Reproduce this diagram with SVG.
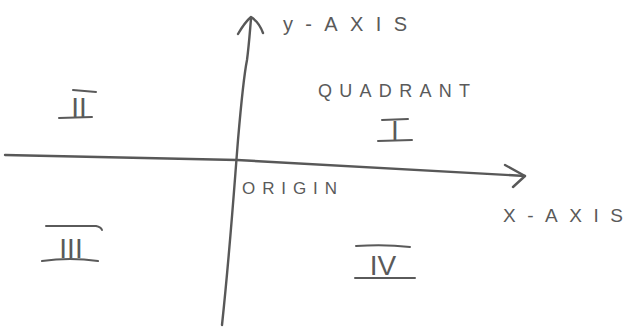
<svg xmlns="http://www.w3.org/2000/svg" width="626" height="331" viewBox="0 0 626 331">
<style>
.ln{fill:none;stroke:#585858;stroke-width:2.4;stroke-linecap:round;stroke-linejoin:round}
.bar{fill:none;stroke:#5a5a5a;stroke-width:2;stroke-linecap:round}
.t{font-family:"Liberation Sans",Arial,sans-serif;fill:#5a5a5a}
.num{font-family:"Liberation Sans",Arial,sans-serif;fill:#5a5a5a;font-size:28px;text-anchor:middle}
</style>
<rect width="626" height="331" fill="#ffffff"/>
<g id="connectors">
  <path class="ln" d="M5,155 L237,160 L525,176"/>
  <path class="ln" d="M505,165 L525,176 L513,187"/>
  <path class="ln" d="M222,325 C230,250 234,190 238,140 C241,105 245,70 247,60 C249,45 250,30 251,19"/>
  <path class="ln" d="M238,34 Q245,22 251,17 Q259,22 263,33"/>
</g>
<g id="y-axis-label"><text class="t" x="283" y="31" font-size="20" textLength="124" lengthAdjust="spacing">y-AXIS</text></g>
<g id="x-axis-label"><text class="t" x="503" y="222" font-size="19" textLength="120" lengthAdjust="spacing">X-AXIS</text></g>
<g id="origin-label"><text class="t" x="242" y="194" font-size="17" textLength="95" lengthAdjust="spacing">ORIGIN</text></g>
<g id="quadrant-label"><text class="t" x="318" y="97" font-size="18" textLength="152" lengthAdjust="spacing">QUADRANT</text></g>
<g id="quadrant-1">
  <text class="num" x="395" y="140">I</text>
  <path class="bar" d="M382,120 L408,119 M378,141 L412,140"/>
</g>
<g id="quadrant-2">
  <text class="num" x="79" y="117">II</text>
  <path class="bar" d="M73,90 L96,92 M59,118 L92,117"/>
</g>
<g id="quadrant-3">
  <text class="num" x="71" y="258">III</text>
  <path class="bar" d="M46,226 L96,226 Q101,227 102,230 M42,261 Q70,257 98,261"/>
</g>
<g id="quadrant-4">
  <text class="num" x="383" y="275">IV</text>
  <path class="bar" d="M356,246 Q385,244 410,247 M355,278 L415,278"/>
</g>
</svg>
